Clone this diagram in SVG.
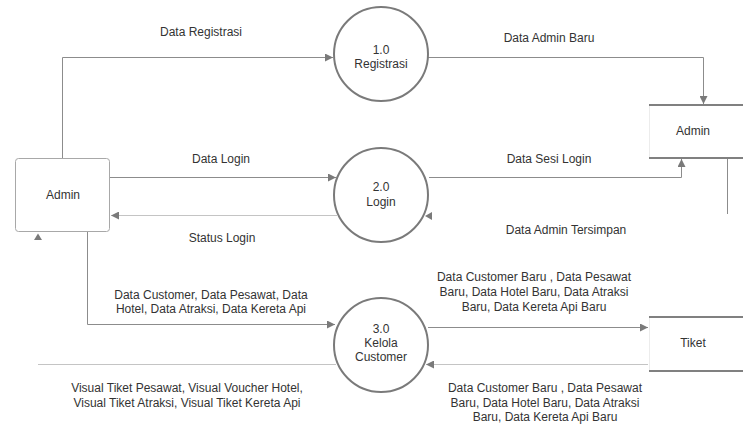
<svg xmlns="http://www.w3.org/2000/svg" width="743" height="425" viewBox="0 0 743 425">
  <style>
    text { font-family: "Liberation Sans", Arial, sans-serif; font-size: 12px; fill: #333; text-anchor: middle; }
    .flow { fill: none; stroke: #8c8c8c; stroke-width: 1; }
    .flow.light { stroke: #c4c4c4; }
    .proc { fill: #fff; stroke: #7a7a7a; stroke-width: 2; }
    .entity { fill: #fff; stroke: #a8a8a8; stroke-width: 1; }
    .store-edge { stroke: #808080; stroke-width: 2.2; }
    .store-side { stroke: #ececec; stroke-width: 1; }
    .head { fill: #7a7a7a; }
  </style>
  <defs>
    <marker id="arrow" viewBox="0 0 8 8" refX="8" refY="4" markerWidth="8" markerHeight="8" markerUnits="userSpaceOnUse" orient="auto">
      <path d="M0,0 L8,4 L0,8 Z" fill="#7a7a7a"/>
    </marker>
  </defs>

  <!-- data flows -->
  <g id="connectors">
    <path class="flow" d="M62.5,158 V57.5 H333" marker-end="url(#arrow)"/>
    <path class="flow" d="M428,57.5 H703.5 V104" marker-end="url(#arrow)"/>
    <path class="flow" d="M110,177.5 H336" marker-end="url(#arrow)"/>
    <path class="flow light" d="M337,215.5 H111" marker-end="url(#arrow)"/>
    <path class="flow" d="M429,177.5 H681.5 V159" marker-end="url(#arrow)"/>
    <path class="flow" d="M727.5,159 V214"/>
    <polygon class="head" points="425,216 432,212 432,220"/>
    <path class="flow" d="M87.5,232 V324.5 H335" marker-end="url(#arrow)"/>
    <path class="flow light" d="M336,364.5 H38"/>
    <polygon class="head" points="38,233.5 34,240 42,240"/>
    <path class="flow" d="M428,327.5 H648" marker-end="url(#arrow)"/>
    <path class="flow light" d="M648,364.5 H426" marker-end="url(#arrow)"/>
  </g>

  <!-- flow labels -->
  <g id="labels">
    <text x="201" y="36">Data Registrasi</text>
    <text x="549" y="42">Data Admin Baru</text>
    <text x="221" y="163">Data Login</text>
    <text x="222" y="242">Status Login</text>
    <text x="549" y="163">Data Sesi Login</text>
    <text x="566" y="234">Data Admin Tersimpan</text>
    <text x="211" y="299">Data Customer, Data Pesawat, Data</text>
    <text x="211" y="313">Hotel, Data Atraksi, Data Kereta Api</text>
    <text x="187" y="392">Visual Tiket Pesawat, Visual Voucher Hotel,</text>
    <text x="187" y="407">Visual Tiket Atraksi, Visual Tiket Kereta Api</text>
    <text x="534" y="281">Data Customer Baru , Data Pesawat</text>
    <text x="534" y="296">Baru, Data Hotel Baru, Data Atraksi</text>
    <text x="534" y="311">Baru, Data Kereta Api Baru</text>
    <text x="545" y="392">Data Customer Baru , Data Pesawat</text>
    <text x="545" y="407">Baru, Data Hotel Baru, Data Atraksi</text>
    <text x="545" y="421">Baru, Data Kereta Api Baru</text>
  </g>

  <!-- external entity -->
  <g id="admin-entity">
    <rect class="entity" x="15.5" y="158.5" width="94" height="73" rx="3"/>
    <text x="63" y="199">Admin</text>
  </g>

  <!-- processes -->
  <g id="proc-registrasi">
    <circle class="proc" cx="381" cy="54" r="47"/>
    <text x="381" y="54">1.0</text>
    <text x="381" y="68">Registrasi</text>
  </g>
  <g id="proc-login">
    <circle class="proc" cx="381" cy="195" r="47"/>
    <text x="381" y="191">2.0</text>
    <text x="381" y="206">Login</text>
  </g>
  <g id="proc-kelola">
    <circle class="proc" cx="381" cy="345" r="47"/>
    <text x="381" y="333">3.0</text>
    <text x="381" y="347">Kelola</text>
    <text x="381" y="361">Customer</text>
  </g>

  <!-- data stores -->
  <g id="store-admin">
    <rect x="649" y="105" width="94" height="53" fill="#fff"/>
    <line class="store-side" x1="649.5" y1="105" x2="649.5" y2="158"/>
    <line class="store-edge" x1="649" y1="105" x2="743" y2="105"/>
    <line class="store-edge" x1="649" y1="158" x2="743" y2="158"/>
    <text x="693" y="135">Admin</text>
  </g>
  <g id="store-tiket">
    <rect x="649" y="317" width="94" height="54" fill="#fff"/>
    <line class="store-side" x1="649.5" y1="317" x2="649.5" y2="371"/>
    <line class="store-edge" x1="649" y1="317" x2="743" y2="317"/>
    <line class="store-edge" x1="649" y1="371" x2="743" y2="371"/>
    <text x="693" y="347">Tiket</text>
  </g>
</svg>
